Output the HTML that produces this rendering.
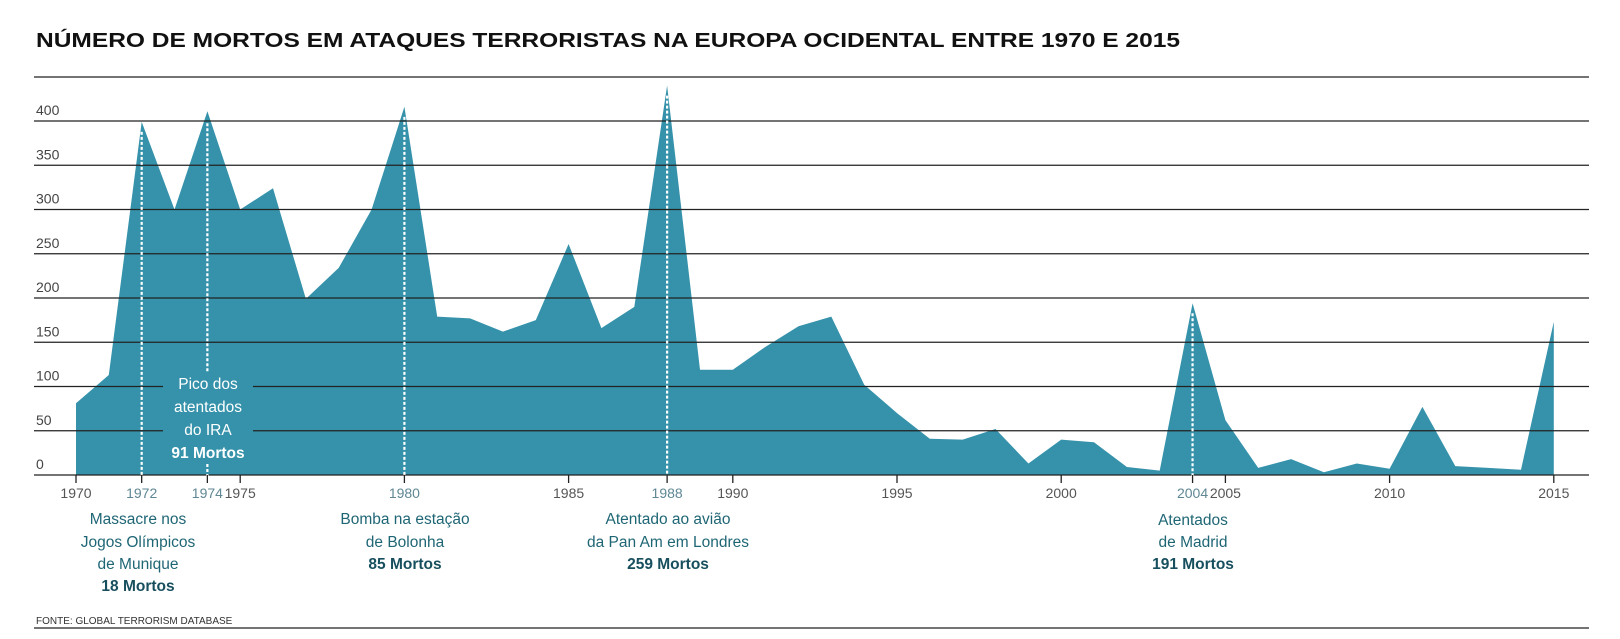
<!DOCTYPE html>
<html><head><meta charset="utf-8"><style>
html,body{margin:0;padding:0;background:#fff;}
svg{display:block;font-family:"Liberation Sans",sans-serif;}
</style></head><body>
<svg id="s" width="1620" height="639" viewBox="0 0 1620 639" xmlns="http://www.w3.org/2000/svg">
<text x="36" y="47" font-size="20" font-weight="bold" fill="#111" textLength="1144" lengthAdjust="spacingAndGlyphs">NÚMERO DE MORTOS EM ATAQUES TERRORISTAS NA EUROPA OCIDENTAL ENTRE 1970 E 2015</text>
<line x1="34" y1="77" x2="1589" y2="77" stroke="#222" stroke-width="1.3"/>
<polygon id="area" fill="#3592aa" points=""/>
<g id="grid" stroke="#222" stroke-width="1.3"></g>
<rect x="163" y="368" width="90" height="80" fill="#3592aa"/>
<g id="dash" stroke="#fff" stroke-width="2.2" stroke-dasharray="3,2"></g>
<g id="ylab" font-size="14" fill="#444"></g>
<g id="ticks" stroke="#222" stroke-width="1.3"></g>
<g id="xlab" font-size="14" fill="#555" text-anchor="middle"></g>
<g font-size="15.5" fill="#fff" text-anchor="middle">
<text x="208" y="389">Pico dos</text>
<text x="208" y="412">atentados</text>
<text x="208" y="435">do IRA</text>
<text x="208" y="458" font-weight="bold">91 Mortos</text>
</g>
<g font-size="15.5" fill="#1f6675" text-anchor="middle">
<text x="138" y="524">Massacre nos</text>
<text x="138" y="547">Jogos Olímpicos</text>
<text x="138" y="569">de Munique</text>
<text x="138" y="591" font-weight="bold" fill="#174f5e">18 Mortos</text>
<text x="405" y="524">Bomba na estação</text>
<text x="405" y="547">de Bolonha</text>
<text x="405" y="569" font-weight="bold" fill="#174f5e">85 Mortos</text>
<text x="668" y="524">Atentado ao avião</text>
<text x="668" y="547">da Pan Am em Londres</text>
<text x="668" y="569" font-weight="bold" fill="#174f5e">259 Mortos</text>
<text x="1193" y="525">Atentados</text>
<text x="1193" y="547">de Madrid</text>
<text x="1193" y="569" font-weight="bold" fill="#174f5e">191 Mortos</text>
</g>
<text x="36" y="624" font-size="10" fill="#333">FONTE: GLOBAL TERRORISM DATABASE</text>
<line x1="34" y1="628" x2="1589" y2="628" stroke="#222" stroke-width="1.3"/>
</svg>
<script>
var v=[81,113,399,300,411,300,324,199,234,300,416,179,177,162,175,261,166,190,440,119,119,145,168,179,102,70,41,40,52,13,40,37,9,5,194,62,8,18,3,13,7,77,10,8,6,173];
function X(y){return 76+32.84*(y-1970);}function Y(a){return 475-0.885*a;}
var p=[X(1970)+","+475];v.forEach(function(a,i){p.push(X(1970+i).toFixed(1)+","+Y(a).toFixed(1));});p.push(X(2015)+",475");
document.getElementById("area").setAttribute("points",p.join(" "));
var ns="http://www.w3.org/2000/svg";
function el(g,t,at,txt){var e=document.createElementNS(ns,t);for(var k in at)e.setAttribute(k,at[k]);if(txt)e.textContent=txt;document.getElementById(g).appendChild(e);}
for(var i=0;i<=8;i++){var y=475-i*44.25;
 if(i>0&&i<=2){el("grid","line",{x1:34,y1:y,x2:163,y2:y});el("grid","line",{x1:253,y1:y,x2:1589,y2:y});}
 else el("grid","line",{x1:34,y1:y,x2:1589,y2:y});
 el("ylab","text",{x:36,y:y-6},String(i*50));}
[[1972,399],[1974,411],[1980,416],[1988,440],[2004,194]].forEach(function(d){var x=X(d[0]);
 if(d[0]==1974){el("dash","line",{x1:x,y1:Y(d[1])+12,x2:x,y2:372});el("dash","line",{x1:x,y1:464,x2:x,y2:483});}
 else el("dash","line",{x1:x,y1:Y(d[1])+10,x2:x,y2:483});});
[1970,1972,1974,1975,1980,1985,1988,1990,1995,2000,2004,2005,2010,2015].forEach(function(yr){var x=X(yr);
 el("ticks","line",{x1:x,y1:475,x2:x,y2:483});
 var hl=[1972,1974,1980,1988,2004].indexOf(yr)>=0;
 el("xlab","text",{x:x,y:498,fill:hl?"#5f8794":"#555"},String(yr));});
</script>
</body></html>
